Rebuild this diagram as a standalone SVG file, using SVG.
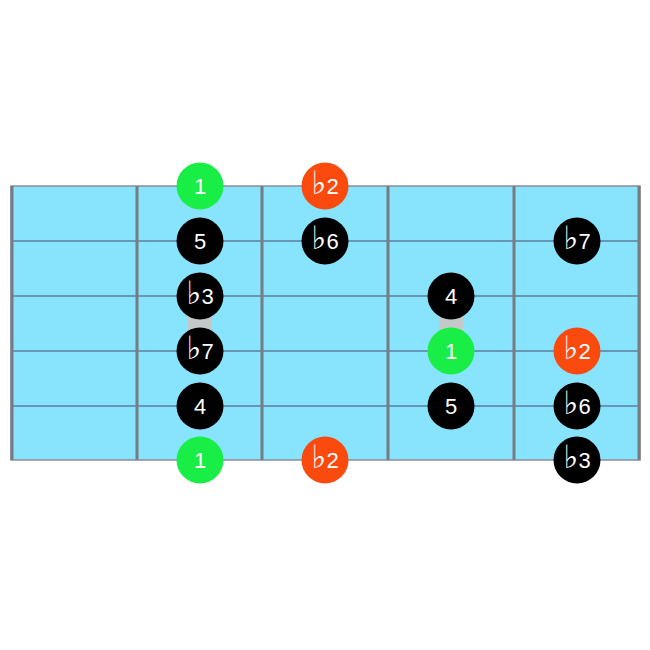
<svg xmlns="http://www.w3.org/2000/svg" width="650" height="650" viewBox="0 0 650 650">
<style>
.board{fill:#88e3fd;stroke:#8a8f96;stroke-width:1.5}
.str{stroke:#5b7f9e;stroke-width:1.6}
.fret{stroke:#777c82;stroke-width:3}
.bar{fill:#c4c8c8}
.dot circle{stroke:none}
.g{fill:#18ee45}
.o{fill:#fb4a0e}
.k{fill:#000}
.dot text{fill:#fff;font-family:"Liberation Sans","DejaVu Sans",sans-serif;font-size:22px;text-anchor:middle}
.fl{font-family:"DejaVu Sans",sans-serif;font-size:32px}
</style>
<rect x="0" y="0" width="650" height="650" fill="#fff"/>
<g id="board">
<rect class="board" x="11" y="186" width="629" height="274"/>
<line class="str" x1="11" y1="241" x2="640" y2="241"/>
<line class="str" x1="11" y1="296" x2="640" y2="296"/>
<line class="str" x1="11" y1="351" x2="640" y2="351"/>
<line class="str" x1="11" y1="406" x2="640" y2="406"/>
<line class="fret" x1="12" y1="186" x2="12" y2="460"/>
<line class="fret" x1="137" y1="186" x2="137" y2="460"/>
<line class="fret" x1="262" y1="186" x2="262" y2="460"/>
<line class="fret" x1="388" y1="186" x2="388" y2="460"/>
<line class="fret" x1="514" y1="186" x2="514" y2="460"/>
<line class="fret" x1="639" y1="186" x2="639" y2="460"/>
</g>
<g id="connectors">
<rect class="bar" x="188" y="312" width="24" height="24"/>
<rect class="bar" x="439" y="312" width="24" height="24"/>
</g>
<g id="n1" class="dot"><circle class="g" cx="200" cy="186" r="23.5"/><text x="200" y="194">1</text></g>
<g id="n2" class="dot"><circle class="o" cx="325" cy="186" r="23.5"/><text x="325" y="194"><tspan class="fl">♭</tspan>2</text></g>
<g id="n3" class="dot"><circle class="k" cx="200" cy="241" r="23.5"/><text x="200" y="249">5</text></g>
<g id="n4" class="dot"><circle class="k" cx="325" cy="241" r="23.5"/><text x="325" y="249"><tspan class="fl">♭</tspan>6</text></g>
<g id="n5" class="dot"><circle class="k" cx="577" cy="241" r="23.5"/><text x="577" y="249"><tspan class="fl">♭</tspan>7</text></g>
<g id="n6" class="dot"><circle class="k" cx="200" cy="296" r="23.5"/><text x="200" y="304"><tspan class="fl">♭</tspan>3</text></g>
<g id="n7" class="dot"><circle class="k" cx="451" cy="296" r="23.5"/><text x="451" y="304">4</text></g>
<g id="n8" class="dot"><circle class="k" cx="200" cy="351" r="23.5"/><text x="200" y="359"><tspan class="fl">♭</tspan>7</text></g>
<g id="n9" class="dot"><circle class="g" cx="451" cy="351" r="23.5"/><text x="451" y="359">1</text></g>
<g id="n10" class="dot"><circle class="o" cx="577" cy="351" r="23.5"/><text x="577" y="359"><tspan class="fl">♭</tspan>2</text></g>
<g id="n11" class="dot"><circle class="k" cx="200" cy="406" r="23.5"/><text x="200" y="414">4</text></g>
<g id="n12" class="dot"><circle class="k" cx="451" cy="406" r="23.5"/><text x="451" y="414">5</text></g>
<g id="n13" class="dot"><circle class="k" cx="577" cy="406" r="23.5"/><text x="577" y="414"><tspan class="fl">♭</tspan>6</text></g>
<g id="n14" class="dot"><circle class="g" cx="200" cy="460" r="23.5"/><text x="200" y="468">1</text></g>
<g id="n15" class="dot"><circle class="o" cx="325" cy="460" r="23.5"/><text x="325" y="468"><tspan class="fl">♭</tspan>2</text></g>
<g id="n16" class="dot"><circle class="k" cx="577" cy="460" r="23.5"/><text x="577" y="468"><tspan class="fl">♭</tspan>3</text></g>
</svg>
